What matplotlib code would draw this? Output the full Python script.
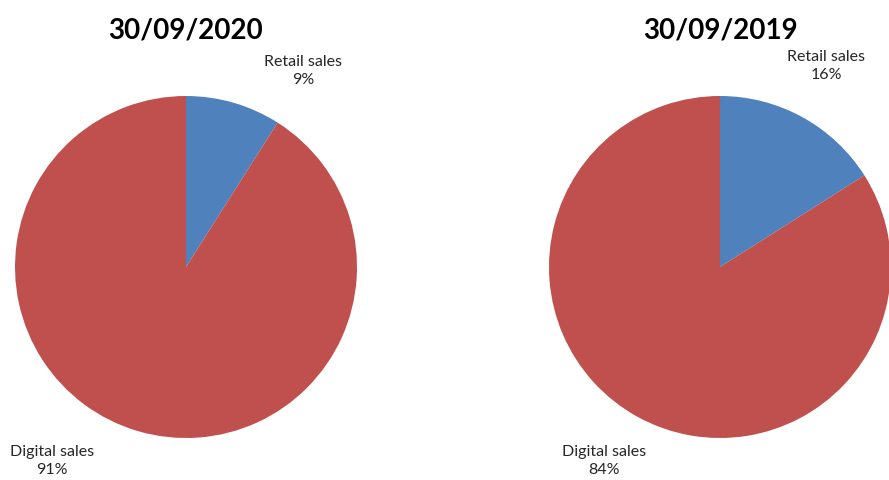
import matplotlib
matplotlib.use("Agg")
import matplotlib.pyplot as plt

plt.rcParams['font.family'] = ['Lato', 'DejaVu Sans']

titles = ["30/09/2020", "30/09/2019"]
categories = ["Retail sales", "Digital sales"]
shares_2020 = [9, 91]
shares_2019 = [16, 84]
colors = ["#4F81BD", "#C0504D"]

W, H = 889, 480
fig = plt.figure(figsize=(W / 100, H / 100), dpi=100)

def px(x, y):
    return x / W, 1 - y / H

# pies: (left px, top px, diameter px)
boxes = [(15, 96, 342), (549, 96, 342)]
label_pos = [
    {"Retail sales": (303, 71), "Digital sales": (52, 461)},
    {"Retail sales": (826, 66), "Digital sales": (604, 461)},
]
title_x = [186, 720]

for i, vals in enumerate([shares_2020, shares_2019]):
    l, t, d = boxes[i]
    ax = fig.add_axes([l / W, (H - t - d) / H, d / W, d / H])
    ax.pie(vals, colors=colors, startangle=90, counterclock=False,
           wedgeprops=dict(linewidth=0))
    ax.set_aspect('equal')
    ax.set_xlim(-1, 1)
    ax.set_ylim(-1, 1)
    ax.axis('off')
    x, y = px(title_x[i], 30)
    fig.text(x, y, titles[i], ha='center', va='center', fontsize=20, fontweight='bold')
    for cat, v in zip(categories, vals):
        lx, ly = px(*label_pos[i][cat])
        fig.text(lx, ly, "%s\n%d%%" % (cat, v), ha='center', va='center',
                 fontsize=11.5, color='#262626', linespacing=1.4)

fig.savefig("out.png", dpi=100, facecolor='white')
